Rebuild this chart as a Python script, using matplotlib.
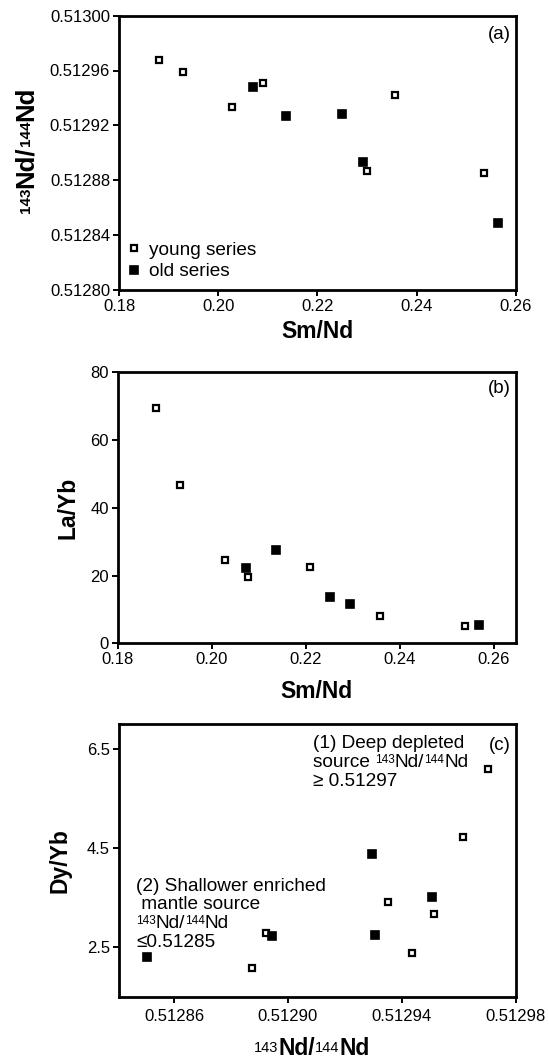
import matplotlib
matplotlib.use('Agg')
import matplotlib.pyplot as plt
from matplotlib.ticker import FormatStrFormatter

FAM = ['Liberation Sans', 'DejaVu Sans']
plt.rcParams['font.family'] = FAM

# ---------------- data ----------------
# (a) Sm/Nd vs 143Nd/144Nd
a_young_smnd = [0.1880, 0.1929, 0.2027, 0.2090, 0.2356, 0.2301, 0.2535]
a_young_nd = [0.512968, 0.512959, 0.512933, 0.512951, 0.512942, 0.512887, 0.512885]
a_old_smnd = [0.2070, 0.2136, 0.2250, 0.2291, 0.2565]
a_old_nd = [0.512948, 0.512927, 0.512928, 0.512893, 0.512849]

# (b) Sm/Nd vs La/Yb
b_young_smnd = [0.1880, 0.1931, 0.2027, 0.2076, 0.2209, 0.2358, 0.2538]
b_young_layb = [69.5, 46.6, 24.5, 19.5, 22.5, 8.1, 5.0]
b_old_smnd = [0.2072, 0.2137, 0.2251, 0.2294, 0.2568]
b_old_layb = [22.1, 27.5, 13.7, 11.5, 5.3]

# (c) 143Nd/144Nd vs Dy/Yb
c_young_nd = [0.5129703, 0.5129615, 0.5129350, 0.5129514, 0.5128924, 0.5129434, 0.5128873]
c_young_dyyb = [6.10, 4.72, 3.41, 3.16, 2.79, 2.38, 2.08]
c_old_nd = [0.5129295, 0.5129505, 0.5129305, 0.5128945, 0.5128505]
c_old_dyyb = [4.37, 3.51, 2.74, 2.72, 2.31]

series_labels = ['young series', 'old series']
a_xticks = [0.18, 0.20, 0.22, 0.24, 0.26]
a_yticks = [0.51280, 0.51284, 0.51288, 0.51292, 0.51296, 0.51300]
b_xticks = [0.18, 0.20, 0.22, 0.24, 0.26]
b_yticks = [0, 20, 40, 60, 80]
c_xticks = [0.51286, 0.51290, 0.51294, 0.51298]
c_yticks = [2.5, 4.5, 6.5]

# ---------------- figure ----------------
W, H = 549, 1062
DPI = 100
fig = plt.figure(figsize=(W / DPI, H / DPI), dpi=DPI)


def axes_px(l, t, r, b):
    return fig.add_axes([l / W, (H - b) / H, (r - l) / W, (b - t) / H])


axA = axes_px(119, 15.7, 515.8, 289.7)
axB = axes_px(118, 372.3, 515.8, 643.3)
axC = axes_px(119, 724, 515.8, 996.7)

young_style = dict(marker='s', ms=5.0, mfc='white', mec='black', mew=1.6, ls='none')
old_style = dict(marker='s', ms=5.8, mfc='black', mec='black', mew=1.2, ls='none')

for ax in (axA, axB, axC):
    for side in ('top', 'right', 'bottom', 'left'):
        ax.spines[side].set_linewidth(2.0)
    ax.tick_params(direction='out', length=4.6, width=1.4, labelsize=12,
                   top=False, right=False, pad=1.8)
    for lab in ax.get_xticklabels() + ax.get_yticklabels():
        lab.set_family(FAM)

# (a)
axA.plot(a_young_smnd, a_young_nd, label=series_labels[0], **young_style)
axA.plot(a_old_smnd, a_old_nd, label=series_labels[1], **old_style)
axA.set_xlim(0.18, 0.26)
axA.set_ylim(0.51280, 0.51300)
axA.set_xticks(a_xticks)
axA.set_yticks(a_yticks)
axA.xaxis.set_major_formatter(FormatStrFormatter('%.2f'))
axA.yaxis.set_major_formatter(FormatStrFormatter('%.5f'))
axA.tick_params(axis='x', pad=2.2)
axA.set_xlabel('Sm/Nd', fontsize=16.5, fontweight='bold', va='baseline')
axA.xaxis.set_label_coords(0.5, -0.177)
leg = axA.legend(loc='lower left', bbox_to_anchor=(0.019, 0.034), frameon=False,
                 fontsize=13.7, handlelength=0.8, handletextpad=0.4,
                 labelspacing=0.22, borderpad=0, borderaxespad=0, numpoints=1)
axA.annotate('(a)', xy=(1, 1), xycoords='axes fraction', xytext=(-3.3, -7.5),
             textcoords='offset points', ha='right', va='top', fontsize=13.5)

# (b)
axB.plot(b_young_smnd, b_young_layb, **young_style)
axB.plot(b_old_smnd, b_old_layb, **old_style)
axB.set_xlim(0.18, 0.2647)
axB.set_ylim(0, 80)
axB.set_xticks(b_xticks)
axB.set_yticks(b_yticks)
axB.xaxis.set_major_formatter(FormatStrFormatter('%.2f'))
axB.tick_params(axis='x', pad=2.0)
axB.set_xlabel('Sm/Nd', fontsize=16.5, fontweight='bold', va='baseline')
axB.xaxis.set_label_coords(0.5, -0.2018)
axB.set_ylabel('La/Yb', fontsize=16.5, fontweight='bold', va='baseline',
               rotation=90, rotation_mode='anchor')
axB.yaxis.set_label_coords(-0.1106, 0.5)
axB.annotate('(b)', xy=(1, 1), xycoords='axes fraction', xytext=(-3.3, -5.5),
             textcoords='offset points', ha='right', va='top', fontsize=13.5)

# (c)
axC.plot(c_young_nd, c_young_dyyb, **young_style)
axC.plot(c_old_nd, c_old_dyyb, **old_style)
axC.set_xlim(0.5128407, 0.51298)
axC.set_ylim(1.5, 7.0)
axC.set_xticks(c_xticks)
axC.set_yticks(c_yticks)
axC.xaxis.set_major_formatter(FormatStrFormatter('%.5f'))
axC.yaxis.set_major_formatter(FormatStrFormatter('%.1f'))
axC.tick_params(axis='x', pad=4.5)
axC.set_ylabel('Dy/Yb', fontsize=16.5, fontweight='bold', va='baseline',
               rotation=90, rotation_mode='anchor')
axC.yaxis.set_label_coords(-0.1323, 0.5)
axC.annotate('(c)', xy=(1, 1), xycoords='axes fraction', xytext=(-3.3, -9.5),
             textcoords='offset points', ha='right', va='top', fontsize=13.5)

# ---------------- mixed-size text ----------------
renderer = fig.canvas.get_renderer()


def text_width(t, size, weight):
    a = fig.text(0, 0, t + 'I', fontsize=size, fontweight=weight, family=FAM)
    b = fig.text(0, 0, 'I', fontsize=size, fontweight=weight, family=FAM)
    w = a.get_window_extent(renderer).width - b.get_window_extent(renderer).width
    a.remove()
    b.remove()
    return w


def rich_text(x, y, pieces, rotation=0, align='left'):
    """x, y: pixels from top-left. pieces: (text, size, weight, raise_pt)."""
    ws = [text_width(t, s, w) for t, s, w, _ in pieces]
    pos = 0 if align == 'left' else -sum(ws) / 2
    k = DPI / 72
    for (t, s, wt, rs), w in zip(pieces, ws):
        if rotation == 0:
            px, py = x + pos, H - y + rs * k
        else:
            px, py = x - rs * k, H - y + pos
        fig.text(px / W, py / H, t, fontsize=s, fontweight=wt, family=FAM,
                 ha='left', va='baseline', rotation=rotation, rotation_mode='anchor')
        pos += w


# y label of (a)
rich_text(33, 150, [('143', 11, 'bold', 2.5), ('Nd/', 18.5, 'bold', 0),
                    ('144', 11, 'bold', 2.5), ('Nd', 18.5, 'bold', 0)],
          rotation=90, align='center')
# x label of (c)
rich_text(312, 1055, [('143', 10.5, 'normal', 2.2), ('Nd/', 16.5, 'bold', 0),
                      ('144', 10.5, 'normal', 2.2), ('Nd', 16.5, 'bold', 0)],
          align='center')

# annotations in (c)
AS = 13.7
SS = 8.5
RS = 3.0
rich_text(313, 748.3, [('(1) Deep depleted', AS, 'normal', 0)])
rich_text(313, 767.0, [('source ', AS, 'normal', 0), ('143', SS, 'normal', RS),
                       ('Nd/', AS, 'normal', 0), ('144', SS, 'normal', RS),
                       ('Nd', AS, 'normal', 0)])
rich_text(313, 785.5, [('\u2265 0.51297', AS, 'normal', 0)])

rich_text(136, 890.7, [('(2) Shallower enriched', AS, 'normal', 0)])
rich_text(136, 909.3, [(' mantle source', AS, 'normal', 0)])
rich_text(136, 928.3, [('143', SS, 'normal', RS), ('Nd/', AS, 'normal', 0),
                       ('144', SS, 'normal', RS), ('Nd', AS, 'normal', 0)])
rich_text(136, 947.3, [('\u22640.51285', AS, 'normal', 0)])

fig.savefig('out.png', dpi=DPI)
